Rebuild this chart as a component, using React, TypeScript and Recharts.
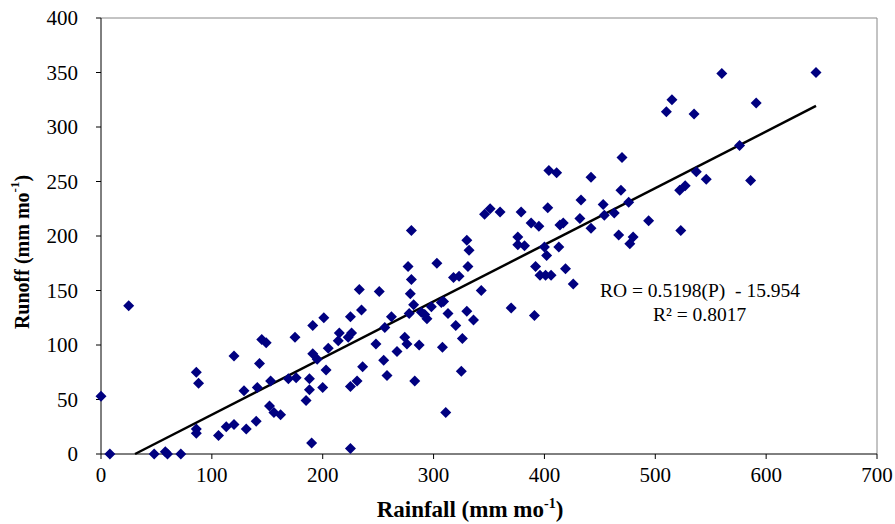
import React from 'react';
import { ScatterChart, Scatter, XAxis, YAxis, ReferenceLine, Label, Customized } from 'recharts';

// monthly rainfall (mm/mo) and runoff (mm/mo)
const rainfall = [
  0, 8, 25, 48, 58, 60, 72, 86, 86, 86,
  88, 106, 113, 120, 120, 129, 131, 140, 141, 143,
  145, 149, 152, 153, 156, 162, 169, 175, 176, 185,
  188, 188, 190, 191, 191, 195, 200, 201, 203, 205,
  214, 215, 223, 225, 225, 225, 226, 231, 233, 235,
  236, 248, 251, 255, 256, 258, 262, 267, 274, 276,
  277, 278, 279, 280, 280, 282, 283, 287, 289, 292,
  294, 298, 303, 307, 308, 309, 311, 313, 318, 320,
  323, 325, 326, 330, 330, 331, 332, 336, 343, 346,
  351, 360, 370, 376, 376, 379, 382, 388, 391, 392,
  395, 396, 400, 401, 402, 403, 404, 406, 411, 413,
  414, 417, 419, 426, 432, 433, 442, 442, 453, 454,
  463, 467, 469, 470, 476, 477, 480, 494, 510, 515,
  522, 523, 527, 535, 537, 546, 560, 576, 586, 591,
  645,
];

const runoff = [
  53, 0, 136, 0, 2, 0, 0, 75, 23, 19,
  65, 17, 25, 27, 90, 58, 23, 30, 61, 83,
  105, 102, 44, 67, 38, 36, 69, 107, 70, 49,
  59, 69, 10, 92, 118, 87, 61, 125, 77, 97,
  104, 111, 107, 126, 5, 62, 111, 67, 151, 132,
  80, 101, 149, 86, 116, 72, 126, 94, 107, 101,
  172, 129, 147, 160, 205, 137, 67, 100, 130, 128,
  124, 135, 175, 139, 98, 140, 38, 129, 162, 118,
  163, 76, 106, 131, 196, 172, 187, 123, 150, 220,
  225, 222, 134, 199, 192, 222, 191, 212, 127, 172,
  209, 164, 190, 164, 182, 226, 260, 164, 258, 190,
  210, 212, 170, 156, 216, 233, 254, 207, 229, 219,
  221, 201, 242, 272, 231, 193, 199, 214, 314, 325,
  242, 205, 246, 312, 259, 252, 349, 283, 251, 322,
  350,
];

const xTicks = [0, 100, 200, 300, 400, 500, 600, 700];
const yTicks = [0, 50, 100, 150, 200, 250, 300, 350, 400];

// fitted line RO = 0.5198(P) - 15.954
const slope = 0.5198;
const intercept = -15.954;
const r2 = 0.8017;

const data = rainfall.map((x, i) => ({ x, y: runoff[i] }));

const xStart = -intercept / slope;
const xEnd = Math.max(...rainfall);

const font = '"Liberation Serif", "Times New Roman", serif';

function Diamond(props: any) {
  const { cx, cy } = props;
  const r = 5.5;
  return (
    <polygon
      points={`${cx},${cy - r} ${cx + r},${cy} ${cx},${cy + r} ${cx - r},${cy}`}
      fill="#000080"
    />
  );
}

function XTitle(props: any) {
  const vb = props.viewBox;
  return (
    <text x={vb.x + vb.width / 2 - 19} y={vb.y + 63} textAnchor="middle"
      fontFamily={font} fontWeight="bold" fontSize={23} fill="#000">
      Rainfall (mm mo<tspan dy={-9} fontSize={14}>-1</tspan><tspan dy={9}>)</tspan>
    </text>
  );
}

function YTitle() {
  return (
    <text x={22} y={252} transform="rotate(-90, 22, 252)" textAnchor="middle"
      dominantBaseline="central" fontFamily={font} fontWeight="bold" fontSize={20} fill="#000">
      Runoff (mm mo<tspan dy={-8} fontSize={13}>-1</tspan><tspan dy={8}>)</tspan>
    </text>
  );
}

function Equation() {
  return (
    <g fontFamily={font} fontSize={19.5} fill="#000">
      <text x={600} y={297} xmlSpace="preserve">{`RO = ${slope}(P)  - ${Math.abs(intercept)}`}</text>
      <text x={653} y={321}>{`R² = ${r2}`}</text>
    </g>
  );
}

export default function App() {
  return (
    <div style={{ position: 'absolute', left: 0, top: 0, background: '#fff' }}>
      <ScatterChart width={895} height={524} margin={{ top: 18, right: 18, bottom: 0, left: 0 }}>
        <XAxis
          type="number"
          dataKey="x"
          domain={[0, 700]}
          ticks={xTicks}
          height={70}
          tickSize={5}
          tickMargin={8}
          axisLine={{ stroke: '#000' }}
          tickLine={{ stroke: '#000' }}
          tick={{ fill: '#000', fontSize: 21, fontFamily: font }}
        >
          <Label content={XTitle} />
        </XAxis>
        <YAxis
          type="number"
          dataKey="y"
          domain={[0, 400]}
          ticks={yTicks}
          width={101}
          tickSize={5}
          tickMargin={18}
          axisLine={{ stroke: '#000' }}
          tickLine={{ stroke: '#000' }}
          tick={{ fill: '#000', fontSize: 21, fontFamily: font }}
        >
          <Label content={YTitle} />
        </YAxis>
        <ReferenceLine y={400} stroke="#888" />
        <ReferenceLine x={700} stroke="#888" />
        <Scatter data={data} shape={Diamond} isAnimationActive={false} />
        <ReferenceLine
          segment={[{ x: xStart, y: 0 }, { x: xEnd, y: slope * xEnd + intercept }]}
          stroke="#000"
          strokeWidth={2.5}
        />
        <Customized component={Equation} />
      </ScatterChart>
    </div>
  );
}
